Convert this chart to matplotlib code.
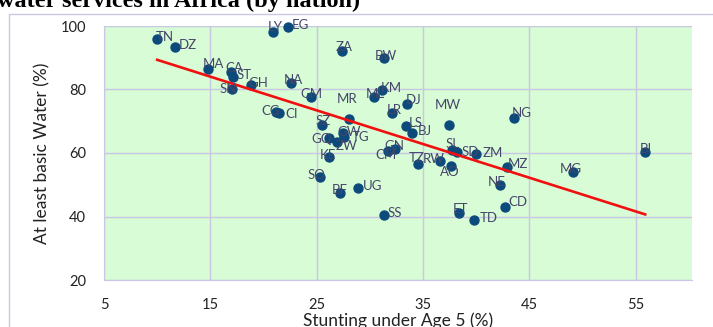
import matplotlib
matplotlib.use('Agg')
import matplotlib.pyplot as plt
from matplotlib.patches import Rectangle
import numpy as np

plt.rcParams['font.family'] = ['Lato', 'DejaVu Sans']

codes = ['TN', 'DZ', 'LY', 'EG', 'MA', 'CA', 'ST', 'SN', 'GH', 'NA', 'CG', 'CI',
         'GM', 'ZA', 'BW', 'ML', 'KM', 'DJ', 'LR', 'MR', 'SZ', 'GW', 'TG', 'ZW',
         'GQ', 'KE', 'SO', 'BF', 'UG', 'SS', 'CM', 'GN', 'TZ', 'LS', 'BJ', 'MW',
         'RW', 'AO', 'SL', 'SD', 'ZM', 'NG', 'MZ', 'NE', 'CD', 'ET', 'TD', 'MG', 'BI']
stunting = [10.0, 11.7, 20.9, 22.3, 14.8, 16.9, 17.1, 17.0, 18.8, 22.6, 21.2, 21.5,
            24.5, 27.4, 31.3, 30.4, 31.1, 33.5, 32.1, 28.0, 25.5, 27.5, 27.6, 26.9,
            26.2, 26.2, 25.3, 27.2, 28.9, 31.3, 31.7, 32.4, 34.5, 33.4, 34.0, 37.4,
            36.6, 37.6, 37.7, 38.2, 40.0, 43.6, 42.9, 42.2, 42.7, 38.4, 39.8, 49.1, 55.9]
water = [95.9, 93.4, 98.2, 99.6, 86.4, 85.5, 84.0, 80.2, 81.4, 82.1, 73.0, 72.7,
         77.7, 92.1, 90.0, 77.7, 79.8, 75.3, 72.7, 70.6, 68.8, 66.3, 64.9, 63.5,
         64.6, 58.6, 52.3, 47.5, 48.9, 40.5, 60.6, 61.3, 56.5, 68.5, 66.2, 68.8,
         57.6, 55.9, 60.9, 60.3, 59.7, 70.9, 55.7, 49.9, 43.1, 41.0, 39.0, 54.1, 60.3]

# label offsets from the marker, in pixels (right, down)
label_off = {
    'TN': (8, -2), 'DZ': (13, -2), 'LY': (2, -5), 'EG': (12, -2), 'MA': (5, -5),
    'CA': (4, -4), 'ST': (11, -2), 'SN': (-3, 0), 'GH': (8, -2), 'NA': (2, -3),
    'CG': (-6, -1), 'CI': (12, 1), 'GM': (0, -3), 'ZA': (2, -4), 'BW': (2, -2),
    'ML': (1, -3), 'KM': (10, -2), 'DJ': (7, -4), 'LR': (2, -3), 'MR': (-1, -20),
    'SZ': (1, -4), 'GW': (6, -1), 'TG': (16, 0), 'ZW': (10, 4), 'GQ': (-8, 1),
    'KE': (-1, -2), 'SO': (-3, -2), 'BF': (0, -3), 'UG': (14, -2), 'SS': (11, -2),
    'CM': (-2, 4), 'GN': (-1, -3), 'TZ': (-1, -6), 'LS': (10, -3), 'BJ': (12, -2),
    'MW': (-1, -20), 'RW': (-6, -2), 'AO': (-1, 6), 'SL': (1, -6), 'SD': (13, 0),
    'ZM': (17, -1), 'NG': (7, -5), 'MZ': (11, -3), 'NE': (-3, -3), 'CD': (13, -5),
    'ET': (1, -4), 'TD': (15, -2), 'MG': (-2, -3), 'BI': (1, -3),
}

grid_col = '#c8c8e4'
dot_col = '#0d4a7c'
label_col = '#45456a'

fig = plt.figure(figsize=(7.13, 3.27), dpi=100)
ax = fig.add_axes([104 / 713, 1 - 280 / 327, (692 - 104) / 713, (280 - 26) / 327])
ax.set_facecolor('#d8fcd5')

ax.scatter(stunting, water, s=42, color=dot_col, zorder=3, clip_on=False)

# linear trendline across the data range
k, b = np.polyfit(stunting, water, 1)
tx = np.array([min(stunting), max(stunting)])
ax.plot(tx, k * tx + b, color='#f01010', lw=1.9, zorder=4)

for c, x, y in zip(codes, stunting, water):
    dx, dy = label_off[c]
    ax.annotate(c, (x, y), xytext=(dx * 0.72, -dy * 0.72), textcoords='offset points',
                ha='center', va='center', fontsize=9.5, color=label_col, zorder=5,
                annotation_clip=False)

ax.set_xlim(5, 60.3)
ax.set_ylim(20, 100)
ax.set_xticks([5, 15, 25, 35, 45, 55])
ax.set_yticks([20, 40, 60, 80, 100])
ax.grid(True, color=grid_col, lw=1)
ax.set_axisbelow(True)
for s in ['top', 'right']:
    ax.spines[s].set_visible(False)
for s in ['left', 'bottom']:
    ax.spines[s].set_color(grid_col)
ax.tick_params(length=0, labelsize=10.5, colors='#222222')
ax.tick_params(axis='x', pad=13)
ax.tick_params(axis='y', pad=13)
ax.set_xlabel('Stunting under Age 5 (%)', fontsize=12.5, color='#222222', labelpad=0)
ax.set_ylabel('At least basic Water (%)', fontsize=12.5, color='#222222', labelpad=7)

# outer chart frame and the clipped title above it
fig.patches.append(Rectangle((9 / 713, -0.05), 1.0, 1 - 14 / 327 + 0.05,
                             transform=fig.transFigure, fill=False,
                             edgecolor=grid_col, lw=1))
fig.text(-0.004, 1 - 7 / 327, 'water services in Africa (by nation)', fontsize=17.5,
         fontweight='bold', family='Liberation Serif', va='baseline', ha='left')

fig.savefig('out.png', dpi=100)
